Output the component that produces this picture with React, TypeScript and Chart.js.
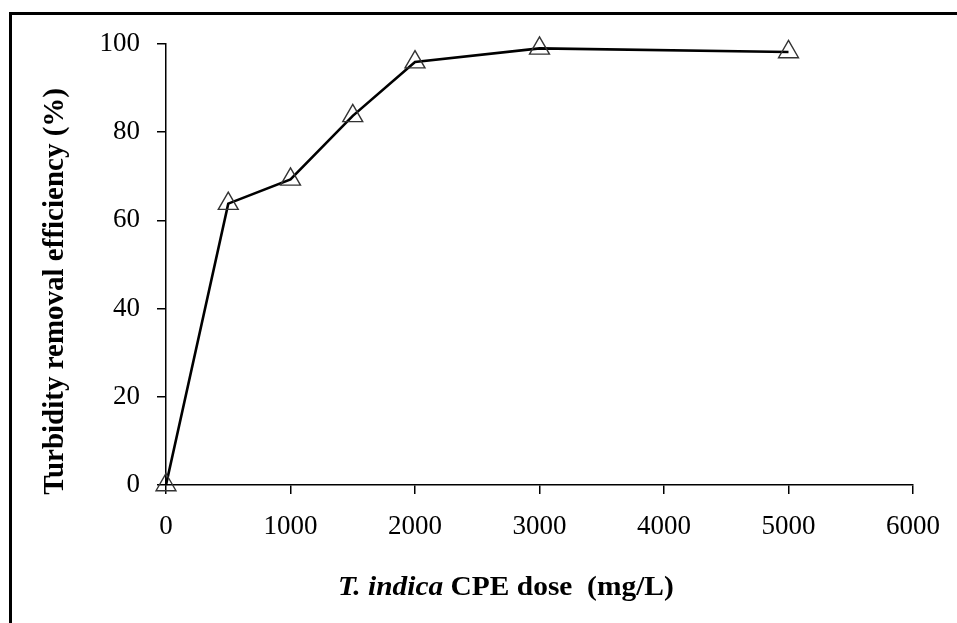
import React, { useEffect, useRef } from "react";
import { Chart, registerables } from "chart.js";

Chart.register(...registerables);

const doses = [0, 500, 1000, 1500, 2000, 3000, 5000];
const efficiency = [0, 63.8, 69.3, 83.7, 95.9, 99.0, 98.2];
const xTicks = [0, 1000, 2000, 3000, 4000, 5000, 6000];
const yTicks = [0, 20, 40, 60, 80, 100];
const yTitle = "Turbidity removal efficiency (%)";
const xTitleParts = [
  { text: "T. indica", style: "italic bold" },
  { text: " CPE dose  (mg/L)", style: "bold" },
];

const FONT = "'Liberation Serif', 'Times New Roman', serif";

const titlesPlugin = {
  id: "titles",
  afterDraw(chart: any) {
    const ctx = chart.ctx;
    const area = chart.chartArea;
    ctx.save();
    ctx.fillStyle = "#000";
    ctx.textBaseline = "alphabetic";

    // x axis title (mixed styles)
    const size = 27;
    const sx = 1.09;
    ctx.textAlign = "left";
    let total = 0;
    const widths = xTitleParts.map((p) => {
      ctx.font = `${p.style} ${size}px ${FONT}`;
      const w = ctx.measureText(p.text).width;
      total += w;
      return w;
    });
    ctx.save();
    ctx.translate(area.left + area.width * 0.455, area.bottom + 110);
    ctx.scale(sx, 1);
    let x = -total / 2;
    xTitleParts.forEach((p, i) => {
      ctx.font = `${p.style} ${size}px ${FONT}`;
      ctx.fillText(p.text, x, 0);
      x += widths[i];
    });
    ctx.restore();

    // y axis title
    ctx.save();
    ctx.translate(area.left - 103, area.top + area.height * 0.561);
    ctx.rotate(-Math.PI / 2);
    ctx.textAlign = "center";
    ctx.font = `bold 29px ${FONT}`;
    ctx.fillText(yTitle, 0, 0);
    ctx.restore();

    ctx.restore();
  },
};

export default function App() {
  const ref = useRef<HTMLCanvasElement | null>(null);
  useEffect(() => {
    if (!ref.current) return;
    const chart = new Chart(ref.current, {
      type: "scatter",
      data: {
        datasets: [
          {
            data: doses.map((d, i) => ({ x: d, y: efficiency[i] })),
            showLine: true,
            clip: false,
            borderColor: "#000",
            borderWidth: 2.6,
            pointStyle: "triangle",
            pointRadius: 11.5,
            pointBackgroundColor: "rgba(255,255,255,0)",
            pointBorderColor: "#333",
            pointBorderWidth: 1.4,
          },
        ],
      },
      options: {
        animation: false,
        responsive: false,
        devicePixelRatio: 1,
        layout: { padding: { left: 0, top: 44, right: 44, bottom: 0 } },
        plugins: { legend: { display: false }, tooltip: { enabled: false } },
        scales: {
          x: {
            type: "linear",
            min: 0,
            max: 6000,
            afterBuildTicks: (s: any) => {
              s.ticks = xTicks.map((v) => ({ value: v }));
            },
            afterFit: (s: any) => {
              s.height = 138;
            },
            border: { color: "#000", width: 1.5 },
            grid: {
              drawOnChartArea: false,
              drawTicks: true,
              tickLength: 9,
              color: "#000",
              lineWidth: 1.5,
            },
            ticks: {
              color: "#000",
              font: { family: FONT, size: 27 },
              padding: 17,
              maxRotation: 0,
              callback: (v: any) => String(v),
            },
          },
          y: {
            type: "linear",
            min: 0,
            max: 100,
            afterBuildTicks: (s: any) => {
              s.ticks = yTicks.map((v) => ({ value: v }));
            },
            afterFit: (s: any) => {
              s.width = 166;
            },
            border: { color: "#000", width: 1.5 },
            grid: {
              drawOnChartArea: false,
              drawTicks: true,
              tickLength: 9,
              color: "#000",
              lineWidth: 1.5,
            },
            ticks: {
              color: "#000",
              font: { family: FONT, size: 27 },
              padding: 17,
              callback: (v: any) => String(v),
            },
          },
        },
      },
      plugins: [titlesPlugin],
    });
    return () => chart.destroy();
  }, []);

  return (
    <div style={{ position: "absolute", left: 0, top: 0, width: 957, height: 623, background: "#fff" }}>
      <div
        style={{
          position: "absolute",
          left: 9,
          top: 12,
          width: 948,
          height: 611,
          borderLeft: "3px solid #000",
          borderTop: "3px solid #000",
          boxSizing: "border-box",
        }}
      />
      <canvas ref={ref} width={957} height={623} style={{ position: "absolute", left: 0, top: 0 }} />
    </div>
  );
}
